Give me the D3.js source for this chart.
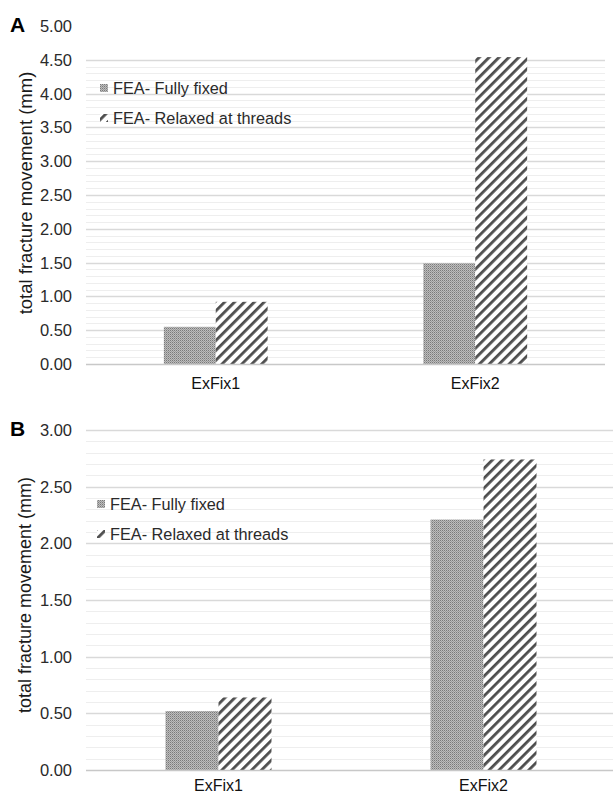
<!DOCTYPE html>
<html><head><meta charset="utf-8">
<script src="https://cdn.jsdelivr.net/npm/d3@7"></script>
<style>body{margin:0;background:#fff}svg{display:block}</style>
</head><body>
<svg id="c" width="613" height="796"></svg>
<script>
const categories = ["ExFix1", "ExFix2"];
const seriesNames = ["FEA- Fully fixed", "FEA- Relaxed at threads"];
const valuesA_fixed = [0.55, 1.49];
const valuesA_relaxed = [0.92, 4.54];
const valuesB_fixed = [0.52, 2.21];
const valuesB_relaxed = [0.64, 2.74];
const ticksA = [0, 0.5, 1, 1.5, 2, 2.5, 3, 3.5, 4, 4.5, 5];
const ticksB = [0, 0.5, 1, 1.5, 2, 2.5, 3];
const yTitle = "total fracture movement (mm)";

const svg = d3.select("#c");
const defs = svg.append("defs");
const p1 = defs.append("pattern").attr("id","dots").attr("patternUnits","userSpaceOnUse").attr("width",2).attr("height",2);
p1.append("rect").attr("width",2).attr("height",2).attr("fill","#bdbdbd");
p1.append("rect").attr("width",1).attr("height",1).attr("fill","#7a7a7a");
p1.append("rect").attr("x",1).attr("y",1).attr("width",1).attr("height",1).attr("fill","#9a9a9a");
const p2 = defs.append("pattern").attr("id","stripes").attr("patternUnits","userSpaceOnUse")
  .attr("width",7).attr("height",7).attr("patternTransform","rotate(45)");
p2.append("rect").attr("width",7).attr("height",7).attr("fill","#ffffff");
p2.append("rect").attr("width",2.8).attr("height",7).attr("fill","#4d4d4d");

const fills = ["url(#dots)", "url(#stripes)"];

function panel(cfg) {
  const g = svg.append("g");
  const y = d3.scaleLinear().domain([0, cfg.max]).range([cfg.y0, cfg.yTop]);
  const x = d3.scaleBand().domain(categories).range([cfg.left, cfg.right]);
  const xs = d3.scaleBand().domain([0,1]).range([0, x.bandwidth()*0.4]);
  const off = x.bandwidth()*0.3;
  const minor = d3.range(0, cfg.minorMax + 1e-9, 0.1).filter(v => Math.abs(v*2 - Math.round(v*2)) > 1e-6);
  g.selectAll(".mn").data(minor).join("line")
    .attr("x1", cfg.left).attr("x2", cfg.right)
    .attr("y1", d => Math.round(y(d))+0.5).attr("y2", d => Math.round(y(d))+0.5)
    .attr("stroke","#eeeeee").attr("stroke-width",1);
  g.selectAll(".mj").data(cfg.ticks.filter(t => t > 0 && t <= cfg.gridMax)).join("line")
    .attr("x1", cfg.left).attr("x2", cfg.right)
    .attr("y1", d => Math.round(y(d))+0.5).attr("y2", d => Math.round(y(d))+0.5)
    .attr("stroke","#d9d9d9").attr("stroke-width",1.3);
  const series = [cfg.fixed, cfg.relaxed];
  series.forEach((vals, si) => {
    g.selectAll(".b"+si).data(categories).join("rect")
      .attr("x", c => x(c) + off + xs(si))
      .attr("width", xs.bandwidth())
      .attr("y", (c,i) => y(vals[i]))
      .attr("height", (c,i) => cfg.y0 - y(vals[i]))
      .attr("fill", fills[si]);
  });
  g.append("line").attr("x1", cfg.left).attr("x2", cfg.right)
    .attr("y1", cfg.y0+0.5).attr("y2", cfg.y0+0.5).attr("stroke","#c8c8c8").attr("stroke-width",1.3);
  g.selectAll(".tl").data(cfg.ticks).join("text")
    .attr("x", 72).attr("y", d => y(d)).attr("dy","0.36em")
    .attr("text-anchor","end").attr("font-family","Liberation Sans, Arial, sans-serif")
    .attr("font-size", 16.5).attr("fill","#2a2a2a").text(d => d3.format(".2f")(d));
  g.selectAll(".cl").data(categories).join("text")
    .attr("x", c => x(c) + x.bandwidth()/2).attr("y", cfg.y0 + cfg.catDy).attr("dy","0.36em")
    .attr("text-anchor","middle").attr("font-family","Liberation Sans, Arial, sans-serif")
    .attr("font-size", 16).attr("fill","#111").text(c => c);
  g.append("text").attr("transform", `translate(${cfg.titleX},${cfg.titleY}) rotate(-90)`)
    .attr("text-anchor","middle").attr("dy","0.36em")
    .attr("font-family","Liberation Sans, Arial, sans-serif").attr("font-size", cfg.titleSize)
    .attr("fill","#1a1a1a").text(yTitle);
  g.append("text").attr("x", 10).attr("y", cfg.letterY).attr("font-family","Liberation Sans, Arial, sans-serif")
    .attr("font-weight","bold").attr("font-size", 21).attr("fill","#000").text(cfg.letter);
  seriesNames.forEach((s, i) => {
    const ly = cfg.legY + i*30;
    g.append("rect").attr("x", cfg.legX).attr("y", ly-4).attr("width",8).attr("height",8).attr("fill", fills[i]);
    g.append("text").attr("x", cfg.legX + 13).attr("y", ly).attr("dy","0.36em")
      .attr("font-family","Liberation Sans, Arial, sans-serif").attr("font-size",16.3)
      .attr("fill","#2a2a2a").text(s);
  });
}

panel({letter:"A", letterY:32, max:5, ticks:ticksA, gridMax:4.5, minorMax:4.5,
  y0:364, yTop:26, left:86, right:605, fixed:valuesA_fixed, relaxed:valuesA_relaxed,
  titleX:25, titleY:193, titleSize:18.5, legX:100, legY:88, catDy:19});
panel({letter:"B", letterY:436, max:3, ticks:ticksB, gridMax:3, minorMax:3,
  y0:770, yTop:430, left:86, right:616, fixed:valuesB_fixed, relaxed:valuesB_relaxed,
  titleX:25, titleY:595, titleSize:18, legX:97, legY:504, catDy:15});
</script>
</body></html>
